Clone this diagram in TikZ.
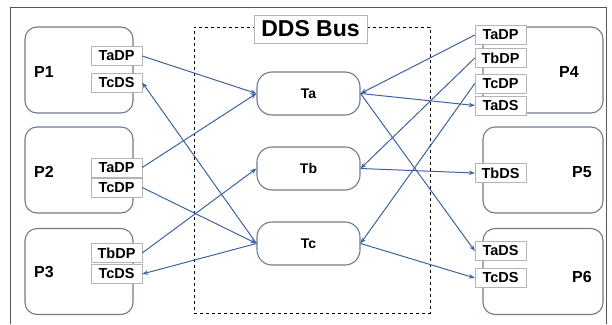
\documentclass[tikz,border=0pt]{standalone}
\usepackage{fontspec}
\setmainfont{Liberation Sans}
\usetikzlibrary{arrows.meta, positioning}
\definecolor{linkblue}{HTML}{3D62A0}
\definecolor{boxgray}{HTML}{6E7B8E}
\definecolor{portgray}{HTML}{B4B4B4}
\definecolor{framegray}{HTML}{555555}

\begin{document}
\begin{tikzpicture}[
    x=1pt, y=-1pt,
    proc/.style={rectangle, draw=boxgray, line width=1.1pt, rounded corners=12pt, minimum width=108pt, minimum height=86pt},
    topic/.style={rectangle, draw=boxgray, line width=1.1pt, rounded corners=15pt, minimum width=103pt, minimum height=43pt, font=\fontsize{14}{16}\selectfont\bfseries},
    port/.style={rectangle, draw=portgray, fill=white, minimum width=51pt, minimum height=19pt, inner sep=0pt, font=\fontsize{14.5}{16}\selectfont\bfseries},
    plabel/.style={font=\fontsize{16}{18}\selectfont\bfseries},
    arrow/.style={linkblue, line width=1pt, -{Stealth[length=6pt,width=4.5pt]}}
]
\useasboundingbox (0,0) rectangle (612,324);
\draw[framegray, line width=1pt] (10,324) -- (10,7) -- (606,7) -- (606,324);

% Bus
\node[draw, dashed, line width=0.8pt, minimum width=236pt, minimum height=286pt] (bus) at (312,170) {};
\node[draw=portgray, fill=white, minimum width=113pt, minimum height=28pt, inner sep=0pt, font=\fontsize{23}{25}\selectfont\bfseries] (buslabel) at (310.5,29) {DDS Bus};

% Topics
\node[topic] (ta) at (308.5,93.5) {Ta};
\node[topic] (tb) at (308.5,168.5) {Tb};
\node[topic] (tc) at (308.5,243.5) {Tc};

% Participants, left
\node[proc] (p1) at (79,70) {};
\node[proc] (p2) at (79,170) {};
\node[proc] (p3) at (79,271.5) {};
\node[plabel] (p1label) at (44,72) {P1};
\node[plabel] (p2label) at (44,172) {P2};
\node[plabel] (p3label) at (44,272) {P3};

\node[port] (p1tadp) at (116.5,56) {TaDP};
\node[port] (p1tcds) at (116.5,82.5) {TcDS};
\node[port] (p2tadp) at (116.5,167.5) {TaDP};
\node[port] (p2tcdp) at (116.5,187.5) {TcDP};
\node[port] (p3tbdp) at (116.5,253) {TbDP};
\node[port] (p3tcds) at (116.5,274) {TcDS};

% Participants, right
\node[proc, minimum width=120pt] (p4) at (543,70) {};
\node[proc, minimum width=120pt] (p5) at (543,170) {};
\node[proc, minimum width=120pt] (p6) at (543,271.5) {};
\node[plabel] (p4label) at (569,72) {P4};
\node[plabel] (p5label) at (582,172) {P5};
\node[plabel] (p6label) at (582,277) {P6};

\node[port] (p4tadp) at (500.5,35) {TaDP};
\node[port] (p4tbdp) at (500.5,58) {TbDP};
\node[port] (p4tcdp) at (500.5,83.5) {TcDP};
\node[port] (p4tads) at (500.5,105.5) {TaDS};
\node[port] (p5tbds) at (500.5,173) {TbDS};
\node[port] (p6tads) at (500.5,251) {TaDS};
\node[port] (p6tcds) at (500.5,278) {TcDS};

% Links
\draw[arrow] (p1tadp.east) -- (ta.west);
\draw[arrow] (p2tadp.east) -- (ta.west);
\draw[arrow] (p2tcdp.east) -- (tc.west);
\draw[arrow] (p3tbdp.east) -- (tb.west);
\draw[arrow] (tc.west) -- (p1tcds.east);
\draw[arrow] (tc.west) -- (p3tcds.east);

\draw[arrow] (p4tadp.west) -- (ta.east);
\draw[arrow] (p4tbdp.west) -- (tb.east);
\draw[arrow] (p4tcdp.west) -- (tc.east);
\draw[arrow] (ta.east) -- (p4tads.west);
\draw[arrow] (tb.east) -- (p5tbds.west);
\draw[arrow] (ta.east) -- (p6tads.west);
\draw[arrow] (tc.east) -- (p6tcds.west);
\end{tikzpicture}
\end{document}
